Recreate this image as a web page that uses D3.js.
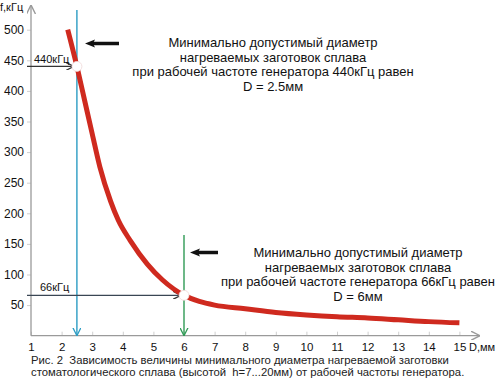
<!DOCTYPE html>
<html><head><meta charset="utf-8">
<script src="https://cdn.jsdelivr.net/npm/d3@7"></script>
<style>
html,body{margin:0;padding:0;background:#fff;}
svg{display:block;font-family:Arial,"Liberation Sans",sans-serif;}
</style></head>
<body><svg id="c" width="500" height="378"></svg>
<script>
const diameters = [2.2, 2.5, 2.75, 3.0, 3.25, 3.6, 3.85, 4.25, 4.8, 5.3, 6.0, 6.5, 7.0, 8.0, 9, 10, 11, 12, 13, 14, 15];
const freqs     = [500, 440, 385, 330, 276, 220, 189, 155, 117, 91, 66, 56, 50, 44, 38, 34, 31, 29, 26, 23, 21];
const xTicks = [1,2,3,4,5,6,7,8,9,10,11,12,13,14,15];
const yTicks = [50,100,150,200,250,300,350,400,450,500];
const markers = [
  {d: 2.5, f: 440, label: "440кГц", color: "#2b9cc3"},
  {d: 6.0, f: 66, label: "66кГц", color: "#2f9a55"}
];
const note1 = ["Минимально допустимый диаметр","нагреваемых заготовок сплава","при рабочей частоте генератора 440кГц равен","D = 2.5мм"];
const note2 = ["Минимально допустимый диаметр","нагреваемых заготовок сплава","при рабочей частоте генератора 66кГц равен","D = 6мм"];
const caption = ["Рис. 2  Зависимость величины минимального диаметра нагреваемой заготовки",
                 "стоматологического сплава (высотой  h=7...20мм) от рабочей частоты генератора."];

const svg = d3.select("#c");
const x = d3.scaleLinear().domain([1,15]).range([31,459.4]);
const y = d3.scaleLinear().domain([0,500]).range([335.7,29.7]);
const axisColor = "#9a9a9a";

const defs = svg.append("defs");
function marker(id, color, w, h){
  defs.append("marker").attr("id",id).attr("viewBox","0 0 10 10").attr("refX",10).attr("refY",5)
    .attr("markerWidth",w).attr("markerHeight",h).attr("orient","auto").attr("markerUnits","userSpaceOnUse")
    .append("path").attr("d","M0,0 L10,5 L0,10").attr("fill","none").attr("stroke",color).attr("stroke-width",1.6);
}
marker("axArr", axisColor, 9, 9);
marker("blueArr", markers[0].color, 8, 9);
marker("greenArr", markers[1].color, 8, 9);
marker("darkArr", "#333", 8, 8);
marker("darkArr2", "#333", 8, 8);

// X axis
const xAxis = d3.axisBottom(x).tickValues(xTicks).tickSize(-4).tickPadding(7).tickFormat(d3.format("d"));
const gx = svg.append("g").attr("transform",`translate(0,${y(0)})`).call(xAxis);
gx.select(".domain").remove();
gx.selectAll(".tick line").attr("stroke","#cfcfcf");
gx.selectAll(".tick text").attr("font-size",11.5).attr("fill","#111").attr("font-family","Arial, 'Liberation Sans', sans-serif");
svg.append("line").attr("x1",x(1)).attr("x2",480).attr("y1",y(0)).attr("y2",y(0))
  .attr("stroke",axisColor).attr("stroke-width",1.3).attr("marker-end","url(#axArr)");

// Y axis
const yAxis = d3.axisLeft(y).tickValues(yTicks).tickSize(4).tickPadding(3);
const gy = svg.append("g").attr("transform",`translate(${x(1)},0)`).call(yAxis);
gy.select(".domain").remove();
gy.selectAll(".tick line").attr("stroke","#cfcfcf");
gy.selectAll(".tick text").attr("font-size",12).attr("fill","#111").attr("font-family","Arial, 'Liberation Sans', sans-serif");
svg.append("line").attr("x1",x(1)).attr("x2",x(1)).attr("y1",y(0)).attr("y2",5)
  .attr("stroke",axisColor).attr("stroke-width",1.3).attr("marker-end","url(#axArr)");

svg.append("text").attr("x",0).attr("y",11).attr("font-size",11).attr("fill","#111").text("f,кГц");
svg.append("text").attr("x",469).attr("y",351).attr("font-size",11).attr("fill","#111").text("D,мм");

// vertical marker lines
svg.append("line").attr("x1",x(markers[0].d)).attr("x2",x(markers[0].d)).attr("y1",10).attr("y2",y(0))
  .attr("stroke",markers[0].color).attr("stroke-width",1.4).attr("marker-end","url(#blueArr)");
svg.append("line").attr("x1",x(markers[1].d)).attr("x2",x(markers[1].d)).attr("y1",235).attr("y2",y(0))
  .attr("stroke",markers[1].color).attr("stroke-width",1.4).attr("marker-end","url(#greenArr)");

// horizontal arrows
svg.append("line").attr("x1",27).attr("x2",x(markers[0].d)-3).attr("y1",y(markers[0].f)).attr("y2",y(markers[0].f))
  .attr("stroke","#333").attr("stroke-width",1.2).attr("marker-end","url(#darkArr)");
svg.append("line").attr("x1",27).attr("x2",x(markers[1].d)-3).attr("y1",y(markers[1].f)).attr("y2",y(markers[1].f))
  .attr("stroke","#3a4654").attr("stroke-width",1.2).attr("marker-end","url(#darkArr2)");
svg.append("text").attr("x",34).attr("y",y(markers[0].f)-3).attr("font-size",11).attr("fill","#111").text(markers[0].label);
svg.append("text").attr("x",40).attr("y",y(markers[1].f)-4).attr("font-size",11).attr("fill","#111").text(markers[1].label);

// curve
const line = d3.line().x((d,i)=>x(diameters[i])).y(d=>y(d)).curve(d3.curveMonotoneX);
svg.append("path").attr("d",line(freqs)).attr("fill","none").attr("stroke","#cf2a1f")
  .attr("stroke-width",5).attr("stroke-linecap","butt");

// circles
markers.forEach(m=>{
  svg.append("circle").attr("cx",x(m.d)).attr("cy",y(m.f)).attr("r",5).attr("fill","#fff").attr("stroke","#f0d8d8").attr("stroke-width",0.8);
});

// bold left arrows
function bigArrow(x1,x2,yy){
  svg.append("line").attr("x1",x2).attr("x2",x1+7).attr("y1",yy).attr("y2",yy).attr("stroke","#111").attr("stroke-width",3.5);
  svg.append("path").attr("d",`M${x1},${yy} L${x1+10},${yy-4} L${x1+8},${yy} L${x1+10},${yy+4} Z`).attr("fill","#111");
}
bigArrow(85,119,43.5);
bigArrow(190,218,252.5);

// notes
function note(lines, cx, y0, dy){
  const t = svg.append("text").attr("font-size",13).attr("fill","#111").attr("text-anchor","middle");
  lines.forEach((l,i)=>t.append("tspan").attr("x",cx).attr("y",y0+i*dy).text(l));
}
note(note1, 273, 47, 14.5);
note(note2, 358, 257, 14.5);

// caption
const cap = svg.append("text").attr("font-size",11.3).attr("fill","#222");
caption.forEach((l,i)=>cap.append("tspan").attr("x",31).attr("y",363.5+i*12).attr("xml:space","preserve").style("white-space","pre").text(l));
</script></body></html>
